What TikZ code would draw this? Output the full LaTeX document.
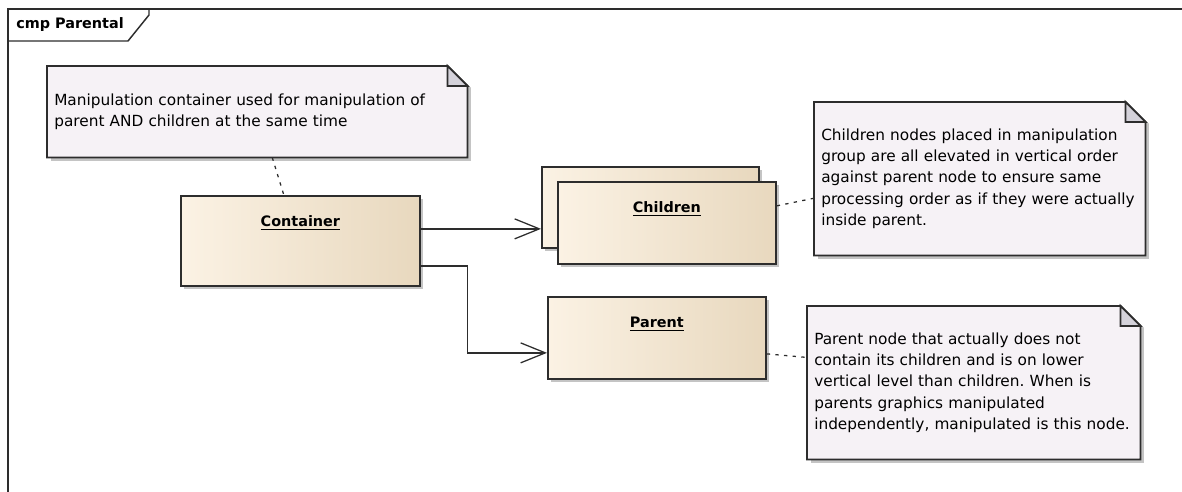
\documentclass[tikz,border=0pt]{standalone}
\usepackage{fontspec}
\setmainfont{DejaVu Sans}
\usepackage{tikz}
\usetikzlibrary{arrows.meta, positioning, shadows}
\usepackage{xcolor}
\definecolor{notefill}{RGB}{246,242,246}
\definecolor{foldgray}{RGB}{212,210,218}
\definecolor{boxleft}{RGB}{251,242,228}
\definecolor{boxright}{RGB}{232,216,190}
\definecolor{shadowgray}{RGB}{196,196,196}
\definecolor{edgeline}{RGB}{45,45,45}
\newcommand{\notefont}{\fontsize{11.5}{16.1}\selectfont}
\newcommand{\titlefont}{\fontsize{10.8}{13}\selectfont\bfseries}
\frenchspacing
\tikzset{
    classbox/.style = {rectangle, anchor=north west, draw=edgeline, line width=1.3pt, left color=boxleft, right color=boxright, inner ysep=0pt, text height=23.25pt, text depth=38.25pt, minimum width=163.5pt, font=\titlefont, drop shadow={shadow xshift=2.5pt, shadow yshift=-2.5pt, fill=shadowgray, opacity=1}},
    note/.style = {rectangle, anchor=north west, fill=notefill, align=left, inner xsep=5.25pt, inner ysep=0pt, font=\notefont, drop shadow={shadow xshift=2.5pt, shadow yshift=-2.5pt, fill=shadowgray, opacity=1}},
    noteedge/.style = {draw=edgeline, line width=1.3pt, line join=miter},
    assoc/.style = {line width=0.95pt, draw=edgeline, -{Straight Barb[length=18.5pt, width=15pt, line width=0.95pt]}},
    notelink/.style = {line width=0.95pt, draw=edgeline, dash pattern=on 2.5pt off 4pt}
}
\begin{document}
\begin{tikzpicture}[x=0.75pt, y=-0.75pt]
\useasboundingbox (0,0) rectangle (1182,492);
% frame
\draw [line width=1.1pt, draw=edgeline] (8,492) -- (8,9) -- (1182,9);
\draw [line width=1.1pt, draw=edgeline] (8,9) -- (149,9) -- (149,15) -- (128,41) -- (8,41);
\node (frametitle) [anchor=west, font=\titlefont, inner sep=0pt] at (16,25) {cmp Parental};

% notes
\node (containernote) [note, minimum width=315pt, minimum height=68.25pt, text width=304.5pt] at (47,66)
    {Manipulation container used for manipulation of\\parent AND children at the same time};
\node (childrennote) [note, minimum width=248.25pt, minimum height=114.75pt, text width=237.75pt] at (814,102)
    {Children nodes placed in manipulation\\group are all elevated in vertical order\\against parent node to ensure same\\processing order as if they were actually\\inside parent.};
\node (parentnote) [note, minimum width=249.75pt, minimum height=114.75pt, text width=239.25pt] at (807,306)
    {Parent node that actually does not\\contain its children and is on lower\\vertical level than children. When is\\parents graphics manipulated\\independently, manipulated is this node.};

% note outlines with folded corner
\foreach \n in {containernote, childrennote, parentnote} {
    \fill [white] ([xshift=-15pt, yshift=0.8pt]\n.north east) -- ([xshift=3.5pt, yshift=0.8pt]\n.north east) -- ([xshift=3.5pt, yshift=-17pt]\n.north east) -- cycle;
    \draw [noteedge] (\n.north west) -- ([xshift=-15pt]\n.north east) -- ([yshift=-15pt]\n.north east) -- (\n.south east) -- (\n.south west) -- cycle;
    \filldraw [noteedge, fill=foldgray] ([xshift=-15pt]\n.north east) -- ([xshift=-15pt, yshift=-15pt]\n.north east) -- ([yshift=-15pt]\n.north east) -- cycle;
}

% components
\node (container) [classbox, minimum width=179.25pt, text depth=44.25pt] at (180,195) {\underline{Container}};
\node (childrenback) [classbox, minimum width=162.75pt, text depth=37.5pt] at (541,166) {};
\node (children) [classbox] at (557,181) {\underline{Children}};
\node (parent) [classbox] at (547,296) {\underline{Parent}};

% connectors
\draw [assoc] ([yshift=9pt]container.east) -- ([yshift=9pt]container.east -| childrenback.west);
\draw [assoc] ([yshift=-18.75pt]container.east) -- ++(47,0) |- ([yshift=-11.25pt]parent.west);
\draw [notelink] ([xshift=11.25pt]containernote.south) -- ([xshift=-12.4pt]container.north);
\draw [notelink] ([yshift=12.75pt]children.east) -- ([yshift=-14.6pt]childrennote.west);
\draw [notelink] ([yshift=-12pt]parent.east) -- ([yshift=19pt]parentnote.west);
\end{tikzpicture}
\end{document}
